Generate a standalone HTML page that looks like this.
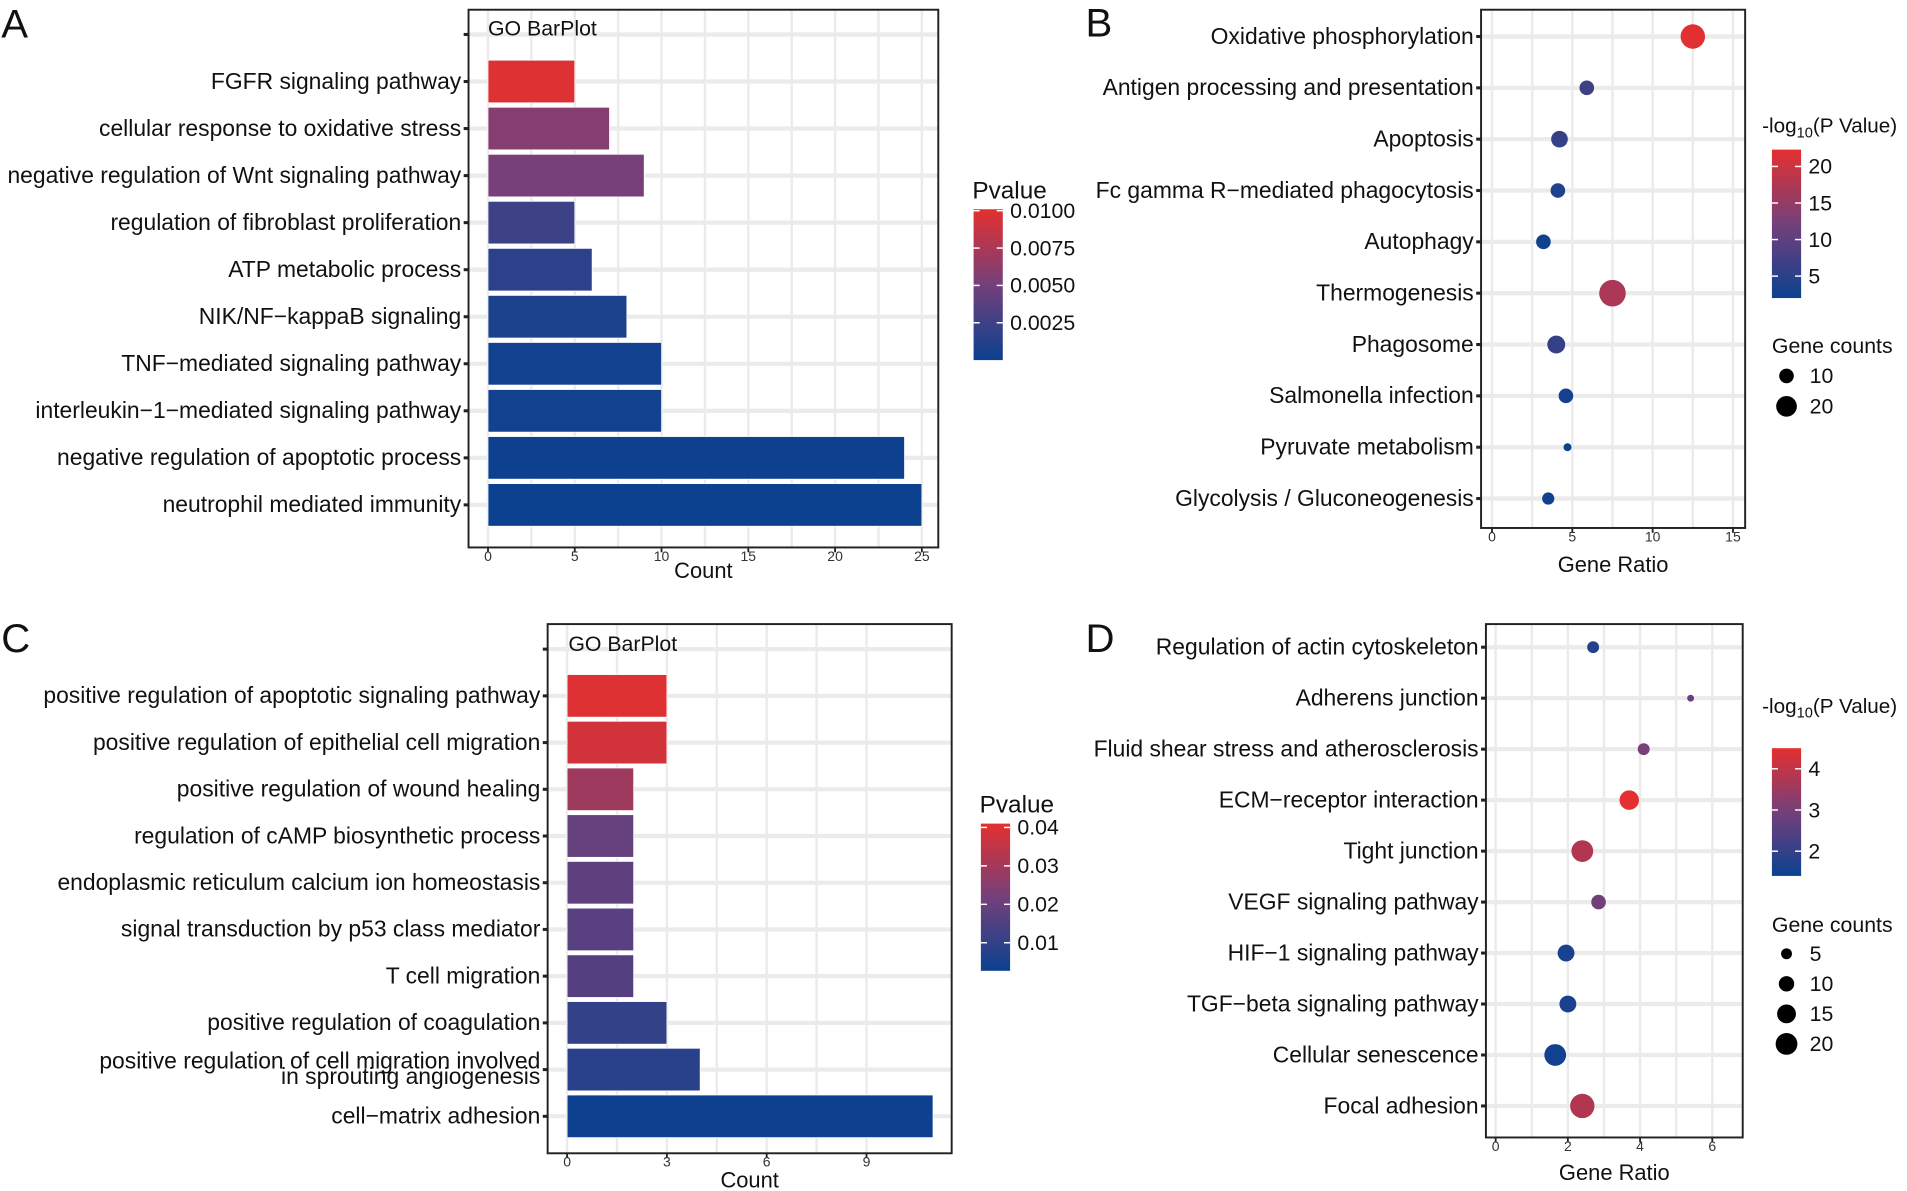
<!DOCTYPE html>
<html><head><meta charset="utf-8">
<style>
html,body{margin:0;padding:0;background:#fff;}
svg{display:block;font-family:"Liberation Sans",Arial,sans-serif;}
</style></head>
<body>
<svg id="fig" width="1907" height="1191" viewBox="0 0 1567 979" preserveAspectRatio="none" xmlns="http://www.w3.org/2000/svg">
<defs>
<linearGradient id="gradPA" x1="0" y1="1" x2="0" y2="0">
<stop offset="0" stop-color="#0b4190"/><stop offset="0.5" stop-color="#74407a"/><stop offset="1" stop-color="#e4302f"/>
</linearGradient>
</defs>
</svg>
<script>
// ---------- Panel A data ----------
const aTerms = ["FGFR signaling pathway","cellular response to oxidative stress","negative regulation of Wnt signaling pathway","regulation of fibroblast proliferation","ATP metabolic process","NIK/NF\u2212kappaB signaling","TNF\u2212mediated signaling pathway","interleukin\u22121\u2212mediated signaling pathway","negative regulation of apoptotic process","neutrophil mediated immunity"];
const aCounts = [5,7,9,5,6,8,10,10,24,25];
const aPvals = [0.0098,0.0058,0.0052,0.0024,0.0016,0.0008,0.0003,0.0003,0.0001,0.00005];
const aTicks = [0,5,10,15,20,25];
const aLegendTicks = [0.0100,0.0075,0.0050,0.0025];
const aLegendLabels = ["0.0100","0.0075","0.0050","0.0025"];
// ---------- Panel B data ----------
const bTerms = ["Oxidative phosphorylation","Antigen processing and presentation","Apoptosis","Fc gamma R\u2212mediated phagocytosis","Autophagy","Thermogenesis","Phagosome","Salmonella infection","Pyruvate metabolism","Glycolysis / Gluconeogenesis"];
const bRatio = [12.5,5.9,4.2,4.1,3.2,7.5,4.0,4.6,4.7,3.5];
const bCounts = [28,10,13,10,10,33,15,10,3,7];
const bLogP = [22,7,6,4,2.5,17,6,3,2,2.5];
const bTicks = [0,5,10,15];
const bLegendTicks = [20,15,10,5];
const bSizeLegend = [10,20];
// ---------- Panel C data ----------
const cTerms = ["positive regulation of apoptotic signaling pathway","positive regulation of epithelial cell migration","positive regulation of wound healing","regulation of cAMP biosynthetic process","endoplasmic reticulum calcium ion homeostasis","signal transduction by p53 class mediator","T cell migration","positive regulation of coagulation","positive regulation of cell migration involved|in sprouting angiogenesis","cell\u2212matrix adhesion"];
const cCounts = [3,3,2,2,2,2,2,3,4,11];
const cPvals = [0.040,0.038,0.029,0.019,0.018,0.017,0.016,0.010,0.008,0.003];
const cTicks = [0,3,6,9];
const cLegendTicks = [0.04,0.03,0.02,0.01];
const cLegendLabels = ["0.04","0.03","0.02","0.01"];
// ---------- Panel D data ----------
const dTerms = ["Regulation of actin cytoskeleton","Adherens junction","Fluid shear stress and atherosclerosis","ECM\u2212receptor interaction","Tight junction","VEGF signaling pathway","HIF\u22121 signaling pathway","TGF\u2212beta signaling pathway","Cellular senescence","Focal adhesion"];
const dRatio = [2.7,5.4,4.1,3.7,2.4,2.85,1.95,2.0,1.65,2.4];
const dCounts = [6,2,6,16,20,9,12,12,20,25];
const dLogP = [1.8,2.8,3.0,4.5,3.8,2.9,1.6,1.6,1.5,3.8];
const dTicks = [0,2,4,6];
const dLegendTicks = [4,3,2];
const dSizeLegend = [5,10,15,20];

const svg = document.getElementById('fig');
const NS = "http://www.w3.org/2000/svg";
const LBL = 18.8;
function mk(tag, attrs, parent){
  const e = document.createElementNS(NS, tag);
  for (const k in attrs) e.setAttribute(k, attrs[k]);
  (parent||svg).appendChild(e);
  return e;
}
function hex(c){return [parseInt(c.slice(1,3),16),parseInt(c.slice(3,5),16),parseInt(c.slice(5,7),16)];}
const stops = [hex("#0b4190"),hex("#74407a"),hex("#e4302f")];
function colorAt(t){
  t=Math.max(0,Math.min(1,t));
  let a,b,u;
  if(t<0.5){a=stops[0];b=stops[1];u=t/0.5;}else{a=stops[1];b=stops[2];u=(t-0.5)/0.5;}
  const c=a.map((v,i)=>Math.round(v+(b[i]-v)*u));
  return "rgb("+c.join(",")+")";
}
function txt(x,y,s,size,anchor,parent){
  const t = mk('text',{x:x,y:y,'font-size':size,'text-anchor':anchor||'start',fill:'#111'},parent);
  t.textContent = s;
  return t;
}

function frame(box, xScale, ticks, minorStep, rowY, nRows, extraRow, g){
  mk('rect',{x:box.x0,y:box.y0,width:box.x1-box.x0,height:box.y1-box.y0,fill:'#fff'},g);
  for(let v=ticks[0]; v<=ticks[ticks.length-1]+minorStep/2; v+=minorStep){
    const x=xScale(v);
    if(x>box.x0 && x<box.x1){
      const l=mk('line',{x1:x,x2:x,y1:box.y0,y2:box.y1,stroke:'#ebebeb','stroke-width':2},g);
      
      
    }
  }
  const rows = extraRow ? nRows+1 : nRows;
  for(let i=0;i<rows;i++){
    const y=rowY(extraRow? i-1 : i);
    const l=mk('line',{x1:box.x0,x2:box.x1,y1:y,y2:y,stroke:'#ebebeb','stroke-width':3.5},g);
    
    
    const tk=mk('line',{x1:box.x0-4,x2:box.x0,y1:y,y2:y,stroke:'#222','stroke-width':2.5},g);
    
    
  }
}
function frameBorder(box,g){
  const r=mk('rect',{x:box.x0,y:box.y0,width:box.x1-box.x0,height:box.y1-box.y0,fill:'none',stroke:'#222','stroke-width':1.6},g);
  
  
}
function xAxis(box,xScale,ticks,labels,title,titleY,g){
  ticks.forEach((v,i)=>{
    const x=xScale(v);
    const l=mk('line',{x1:x,x2:x,y1:box.y1,y2:box.y1+4,stroke:'#222','stroke-width':1.5},g);
    
    
    const t=txt(x,box.y1+11,labels[i],11.5,'middle',g);
    t.setAttribute('fill','#333');
    
    
  });
  const tt=txt((box.x0+box.x1)/2,titleY,title,18,'middle',g);
  
  
}
function yLabels(box,terms,rowY,g){
  terms.forEach((s,i)=>{
    const y=rowY(i);
    if(s.indexOf('|')>=0){
      const p=s.split('|');
      const t1=txt(box.x0-6,y-1,p[0],LBL,'end',g);
      
      
      const t2=txt(box.x0-6,y+12,p[1],LBL,'end',g);
      
      
    } else {
      const t=txt(box.x0-6,y+6,s,LBL,'end',g);
      
      
    }
  });
}
function colorLegend(lx,ly,lh,ticks,labels,valToY,g){
  const gr=mk('rect',{x:lx,y:ly,width:24,height:lh,fill:'url(#gradPA)'},g);
  
  
  ticks.forEach((v,i)=>{
    const y=valToY(v);
    mk('line',{x1:lx,x2:lx+5,y1:y,y2:y,stroke:'#fff','stroke-width':1.2},g);
    mk('line',{x1:lx+19,x2:lx+24,y1:y,y2:y,stroke:'#fff','stroke-width':1.2},g);
    const t=txt(lx+30,y+6,labels[i],17.5,'start',g);
    
    
  });
}

// ================= Panel A =================
(function(){
  const g=mk('g',{});
  
  
  const box={x0:385,x1:771,y0:8,y1:450};
  const x=v=>401+v*(757.5-401)/25;
  const rowY=i=>67+i*38.67;
  frame(box,x,aTicks,2.5,rowY,aTerms.length,true,g);
  const pmax=0.0101,pmin=0;
  aCounts.forEach((c,i)=>{
    const r=mk('rect',{x:x(0),y:rowY(i)-17.5,width:x(c)-x(0),height:35,fill:colorAt((aPvals[i]-pmin)/(pmax-pmin)),stroke:'#fff','stroke-width':0.6},g);
    
    
  });
  frameBorder(box,g);
  const tt=txt(401,29,"GO BarPlot",17.5,'start',g);
  
  
  yLabels(box,aTerms,rowY,g);
  xAxis(box,x,aTicks,aTicks.map(String),"Count",475,g);
  const lt=txt(799,163,"Pvalue",20,'start',g);
  
  
  colorLegend(800,172,124,aLegendTicks,aLegendLabels,v=>296-(v-pmin)/(pmax-pmin)*124,g);
  const pl=txt(1,31,"A",33,'start',g);
  
  
})();

// ================= Panel B =================
(function(){
  const g=mk('g',{});
  
  
  const box={x0:1217,x1:1434,y0:8,y1:434};
  const x=v=>1226+v*(1424-1226)/15;
  const rowY=i=>30+i*42.2;
  frame(box,x,bTicks,2.5,rowY,bTerms.length,false,g);
  const lmin=2,lmax=22.3;
  bRatio.forEach((r,i)=>{
    const c=mk('circle',{cx:x(r),cy:rowY(i),r:1.9*Math.sqrt(bCounts[i]),fill:colorAt((bLogP[i]-lmin)/(lmax-lmin))},g);
    
    
  });
  frameBorder(box,g);
  yLabels(box,bTerms,rowY,g);
  xAxis(box,x,bTicks,bTicks.map(String),"Gene Ratio",470,g);
  const lt=mk('text',{x:1448,y:109,'font-size':17,fill:'#111'},g);
  lt.innerHTML='-log<tspan font-size="12" dy="4">10</tspan><tspan dy="-4">(P Value)</tspan>';
  
  
  colorLegend(1456,123,122,bLegendTicks,bLegendTicks.map(String),v=>245-(v-lmin)/(lmax-lmin)*122,g);
  const st=txt(1456,290,"Gene counts",17.5,'start',g);
  
  
  bSizeLegend.forEach((v,i)=>{
    const cy=309+i*25;
    const c=mk('circle',{cx:1468,cy:cy,r:1.9*Math.sqrt(v),fill:'#000'},g);
    
    
    const t=txt(1487,cy+6,String(v),17.5,'start',g);
    
    
  });
  const pl=txt(892,30,"B",33,'start',g);
  
  
})();

// ================= Panel C =================
(function(){
  const g=mk('g',{});
  
  
  const box={x0:450,x1:782,y0:513,y1:948};
  const x=v=>466+v*(712-466)/9;
  const rowY=i=>572+i*38.4;
  frame(box,x,cTicks,1.5,rowY,cTerms.length,true,g);
  const pmin=0.0027,pmax=0.041;
  cCounts.forEach((c,i)=>{
    const r=mk('rect',{x:x(0),y:rowY(i)-17.5,width:x(c)-x(0),height:35,fill:colorAt((cPvals[i]-pmin)/(pmax-pmin)),stroke:'#fff','stroke-width':0.6},g);
    
    
  });
  frameBorder(box,g);
  const tt=txt(467,535,"GO BarPlot",17.5,'start',g);
  
  
  yLabels(box,cTerms,rowY,g);
  xAxis(box,x,cTicks,cTicks.map(String),"Count",976,g);
  const lt=txt(805,668,"Pvalue",20,'start',g);
  
  
  colorLegend(806,677,121,cLegendTicks,cLegendLabels,v=>798-(v-pmin)/(pmax-pmin)*121,g);
  const pl=txt(1,536,"C",33,'start',g);
  
  
})();

// ================= Panel D =================
(function(){
  const g=mk('g',{});
  
  
  const box={x0:1221,x1:1432,y0:513,y1:935};
  const x=v=>1229+v*(1407-1229)/6;
  const rowY=i=>532+i*41.9;
  frame(box,x,dTicks,1,rowY,dTerms.length,false,g);
  const lmin=1.4,lmax=4.5;
  dRatio.forEach((r,i)=>{
    const c=mk('circle',{cx:x(r),cy:rowY(i),r:2*Math.sqrt(dCounts[i]),fill:colorAt((dLogP[i]-lmin)/(lmax-lmin))},g);
    
    
  });
  frameBorder(box,g);
  yLabels(box,dTerms,rowY,g);
  xAxis(box,x,dTicks,dTicks.map(String),"Gene Ratio",970,g);
  const lt=mk('text',{x:1448,y:586,'font-size':17,fill:'#111'},g);
  lt.innerHTML='-log<tspan font-size="12" dy="4">10</tspan><tspan dy="-4">(P Value)</tspan>';
  
  
  colorLegend(1456,615,105,dLegendTicks,dLegendTicks.map(String),v=>720-(v-lmin)/(lmax-lmin)*105,g);
  const st=txt(1456,766,"Gene counts",17.5,'start',g);
  
  
  dSizeLegend.forEach((v,i)=>{
    const cy=784+i*24.7;
    const c=mk('circle',{cx:1468,cy:cy,r:2*Math.sqrt(v),fill:'#000'},g);
    
    
    const t=txt(1487,cy+6,String(v),17.5,'start',g);
    
    
  });
  const pl=txt(892,536,"D",33,'start',g);
  
  
})();
</script>
</body></html>
